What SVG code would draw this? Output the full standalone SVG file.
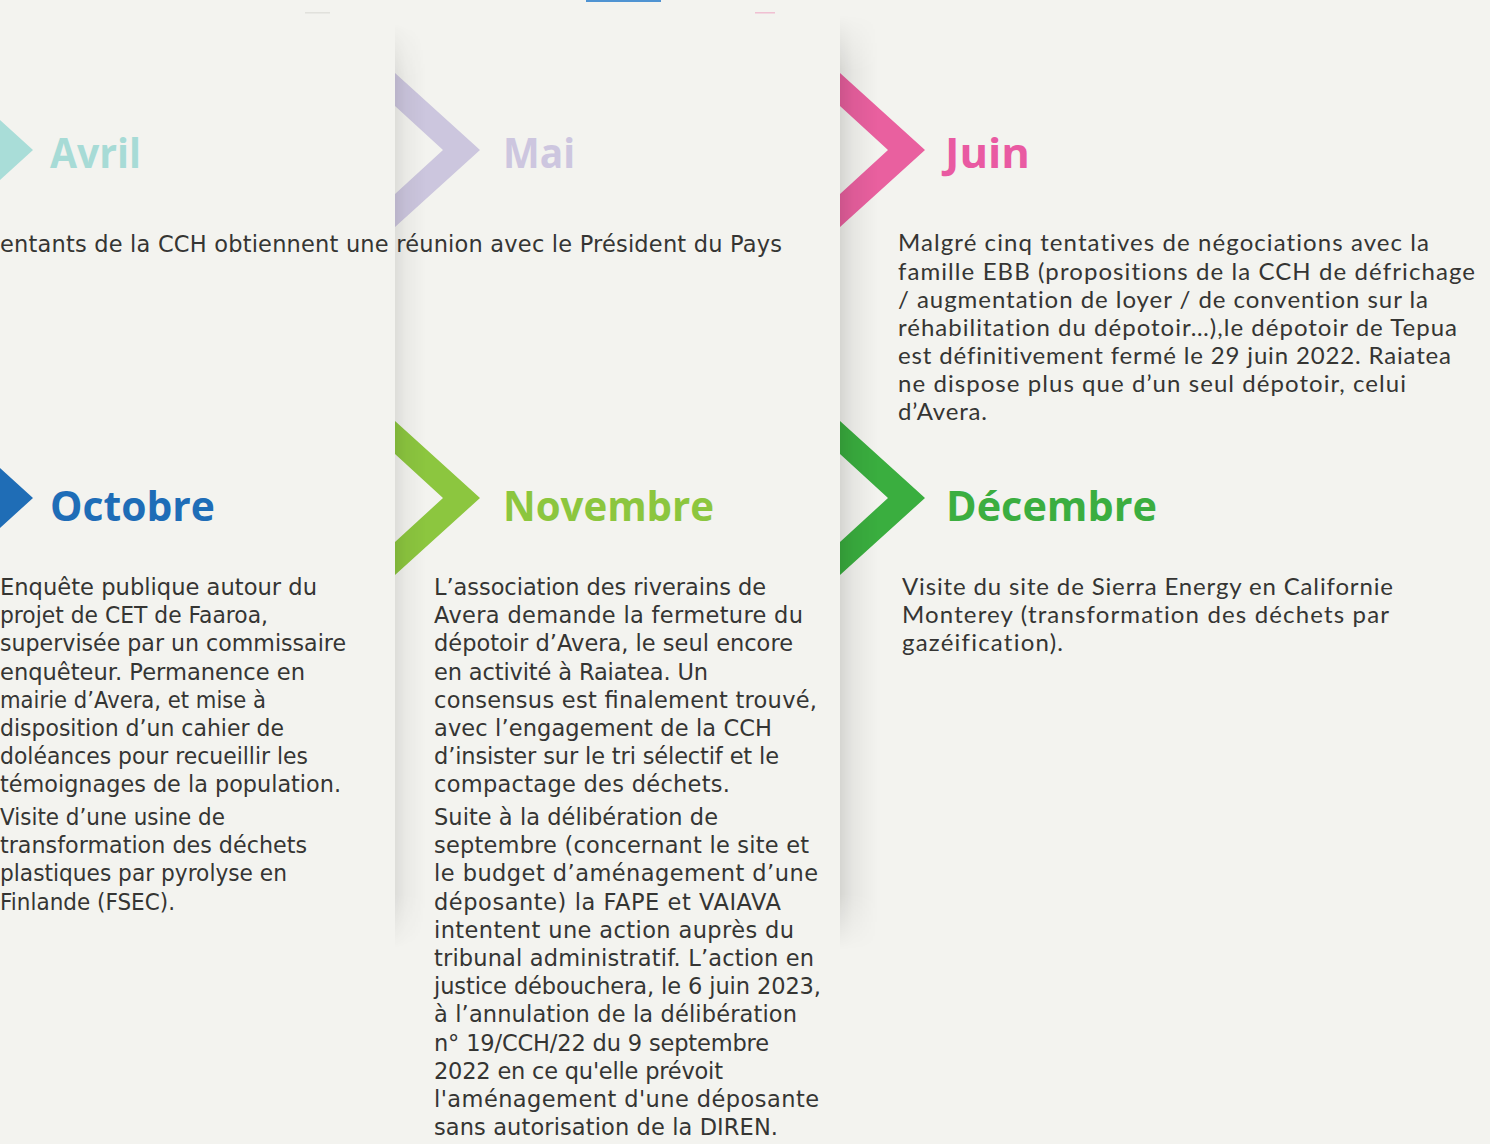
<svg xmlns="http://www.w3.org/2000/svg" width="1490" height="1144" viewBox="0 0 1490 1144">
<defs>
<style>
.bg{fill:#f3f3ef}
.title{font-family:"Open Sans","Liberation Sans",sans-serif;font-weight:700;font-size:42px}
.body{font-family:"DejaVu Sans","Liberation Sans",sans-serif;font-size:22.5px;fill:#353533}
.body2{font-family:Lato,"Liberation Sans",sans-serif;font-size:24px;fill:#353533;font-variant-ligatures:none}
</style>
<linearGradient id="shH" x1="0" y1="0" x2="1" y2="0">
<stop offset="0" stop-color="#000" stop-opacity="0.12"/>
<stop offset="0.35" stop-color="#000" stop-opacity="0.05"/>
<stop offset="1" stop-color="#000" stop-opacity="0"/>
</linearGradient>
<linearGradient id="fadeV" x1="0" y1="0" x2="0" y2="1">
<stop offset="0" stop-color="#fff" stop-opacity="0"/>
<stop offset="0.06" stop-color="#fff" stop-opacity="1"/>
<stop offset="0.94" stop-color="#fff" stop-opacity="1"/>
<stop offset="1" stop-color="#fff" stop-opacity="0"/>
</linearGradient>
<mask id="mV" maskContentUnits="objectBoundingBox">
<rect x="0" y="0" width="1" height="1" fill="url(#fadeV)"/>
</mask>
</defs>
<rect class="bg" x="0" y="0" width="1490" height="1144"/>
<g id="top-marks">
<rect x="586" y="0" width="75" height="2" fill="#4f93d2"/>
<rect x="755" y="12" width="20" height="1.5" fill="#eea9c6" opacity="0.7"/>
<rect x="305" y="12" width="25" height="1.5" fill="#d8d8d4" opacity="0.7"/>
</g>
<g id="chevrons">
<polygon id="chev-avril" points="-52,73 33,150 -52,227 -52,194 -4,150 -52,106" fill="#a9ddd8"/>
<polygon id="chev-mai" points="395,73 480,150 395,227 395,194 443,150 395,106" fill="#ccc6de"/>
<polygon id="chev-juin" points="840,73 925,150 840,227 840,194 888,150 840,106" fill="#e9609f"/>
<polygon id="chev-octobre" points="-52,421 33,498 -52,575 -52,542 -4,498 -52,454" fill="#1f6db6"/>
<polygon id="chev-novembre" points="395,421 480,498 395,575 395,542 443,498 395,454" fill="#8cc63f"/>
<polygon id="chev-decembre" points="840,421 925,498 840,575 840,542 888,498 840,454" fill="#3aae3f"/>
</g>
<g id="panel-shadows">
<rect x="395" y="22" width="32" height="928" fill="url(#shH)" mask="url(#mV)" opacity="0.75"/>
<rect x="840" y="15" width="38" height="935" fill="url(#shH)" mask="url(#mV)"/>
</g>
<g id="connectors"/>
<g id="avril">
<text class="title" x="50" y="168" fill="#a7dbd6" textLength="91" lengthAdjust="spacingAndGlyphs">Avril</text>
<text class="body" x="0" y="252" textLength="782" lengthAdjust="spacing">entants de la CCH obtiennent une réunion avec le Président du Pays</text>
</g>
<g id="mai">
<text class="title" x="503" y="168" fill="#cdc6df" textLength="72" lengthAdjust="spacingAndGlyphs">Mai</text>
</g>
<g id="juin">
<text class="title" x="945" y="168" fill="#e95aa2" textLength="85" lengthAdjust="spacingAndGlyphs">Juin</text>
<text class="body2" x="898" y="251" textLength="531" lengthAdjust="spacing">Malgré cinq tentatives de négociations avec la</text>
<text class="body2" x="898" y="280" textLength="577" lengthAdjust="spacing">famille EBB (propositions de la CCH de défrichage</text>
<text class="body2" x="898" y="308" textLength="530" lengthAdjust="spacing">/ augmentation de loyer / de convention sur la</text>
<text class="body2" x="898" y="336" textLength="559" lengthAdjust="spacing">réhabilitation du dépotoir…),le dépotoir de Tepua</text>
<text class="body2" x="898" y="364" textLength="553" lengthAdjust="spacing">est définitivement fermé le 29 juin 2022. Raiatea</text>
<text class="body2" x="898" y="392" textLength="508" lengthAdjust="spacing">ne dispose plus que d’un seul dépotoir, celui</text>
<text class="body2" x="898" y="420" textLength="89" lengthAdjust="spacing">d’Avera.</text>
</g>
<g id="octobre">
<text class="title" x="50" y="521" fill="#1e6db7" textLength="165" lengthAdjust="spacingAndGlyphs">Octobre</text>
<text class="body" x="0" y="595" textLength="317" lengthAdjust="spacingAndGlyphs">Enquête publique autour du</text>
<text class="body" x="0" y="623.2" textLength="268" lengthAdjust="spacingAndGlyphs">projet de CET de Faaroa,</text>
<text class="body" x="0" y="651.4" textLength="346" lengthAdjust="spacingAndGlyphs">supervisée par un commissaire</text>
<text class="body" x="0" y="679.6" textLength="305" lengthAdjust="spacingAndGlyphs">enquêteur. Permanence en</text>
<text class="body" x="0" y="707.8" textLength="266" lengthAdjust="spacingAndGlyphs">mairie d’Avera, et mise à</text>
<text class="body" x="0" y="736" textLength="284" lengthAdjust="spacingAndGlyphs">disposition d’un cahier de</text>
<text class="body" x="0" y="764.2" textLength="308" lengthAdjust="spacingAndGlyphs">doléances pour recueillir les</text>
<text class="body" x="0" y="792.4" textLength="341" lengthAdjust="spacingAndGlyphs">témoignages de la population.</text>
<text class="body" x="0" y="825" textLength="225" lengthAdjust="spacingAndGlyphs">Visite d’une usine de</text>
<text class="body" x="0" y="853.2" textLength="307" lengthAdjust="spacingAndGlyphs">transformation des déchets</text>
<text class="body" x="0" y="881.4" textLength="287" lengthAdjust="spacingAndGlyphs">plastiques par pyrolyse en</text>
<text class="body" x="0" y="909.6" textLength="175" lengthAdjust="spacingAndGlyphs">Finlande (FSEC).</text>
</g>
<g id="novembre">
<text class="title" x="503" y="521" fill="#8cc63e" textLength="211" lengthAdjust="spacingAndGlyphs">Novembre</text>
<text class="body" x="434" y="595" textLength="332" lengthAdjust="spacing">L’association des riverains de</text>
<text class="body" x="434" y="623.2" textLength="369" lengthAdjust="spacing">Avera demande la fermeture du</text>
<text class="body" x="434" y="651.4" textLength="359" lengthAdjust="spacing">dépotoir d’Avera, le seul encore</text>
<text class="body" x="434" y="679.6" textLength="274" lengthAdjust="spacing">en activité à Raiatea. Un</text>
<text class="body" x="434" y="707.8" textLength="383" lengthAdjust="spacing">consensus est finalement trouvé,</text>
<text class="body" x="434" y="736" textLength="338" lengthAdjust="spacing">avec l’engagement de la CCH</text>
<text class="body" x="434" y="764.2" textLength="345" lengthAdjust="spacing">d’insister sur le tri sélectif et le</text>
<text class="body" x="434" y="792.4" textLength="296" lengthAdjust="spacing">compactage des déchets.</text>
<text class="body" x="434" y="825" textLength="284" lengthAdjust="spacing">Suite à la délibération de</text>
<text class="body" x="434" y="853.2" textLength="375" lengthAdjust="spacing">septembre (concernant le site et</text>
<text class="body" x="434" y="881.4" textLength="384" lengthAdjust="spacing">le budget d’aménagement d’une</text>
<text class="body" x="434" y="909.6" textLength="347" lengthAdjust="spacing">déposante) la FAPE et VAIAVA</text>
<text class="body" x="434" y="937.8" textLength="360" lengthAdjust="spacing">intentent une action auprès du</text>
<text class="body" x="434" y="966" textLength="380" lengthAdjust="spacing">tribunal administratif. L’action en</text>
<text class="body" x="434" y="994.2" textLength="387" lengthAdjust="spacing">justice débouchera, le 6 juin 2023,</text>
<text class="body" x="434" y="1022.4" textLength="363" lengthAdjust="spacing">à l’annulation de la délibération</text>
<text class="body" x="434" y="1050.6" textLength="335" lengthAdjust="spacing">n° 19/CCH/22 du 9 septembre</text>
<text class="body" x="434" y="1078.8" textLength="289" lengthAdjust="spacing">2022 en ce qu'elle prévoit</text>
<text class="body" x="434" y="1107" textLength="385" lengthAdjust="spacing">l'aménagement d'une déposante</text>
<text class="body" x="434" y="1135.2" textLength="344" lengthAdjust="spacing">sans autorisation de la DIREN.</text>
</g>
<g id="decembre">
<text class="title" x="946" y="521" fill="#3bae40" textLength="211" lengthAdjust="spacingAndGlyphs">Décembre</text>
<text class="body2" x="902" y="595" textLength="491" lengthAdjust="spacing">Visite du site de Sierra Energy en Californie</text>
<text class="body2" x="902" y="623" textLength="487" lengthAdjust="spacing">Monterey (transformation des déchets par</text>
<text class="body2" x="902" y="651" textLength="161" lengthAdjust="spacing">gazéification).</text>
</g>
</svg>
